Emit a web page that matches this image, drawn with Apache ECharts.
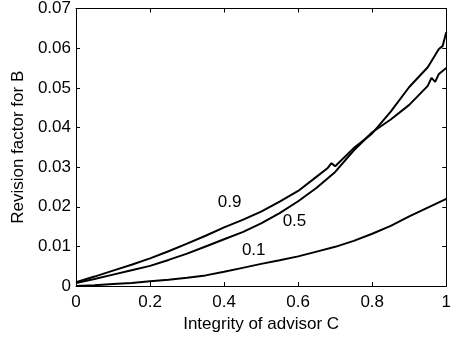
<!DOCTYPE html>
<html>
<head>
<meta charset="utf-8">
<script src="https://cdn.jsdelivr.net/npm/echarts@6/dist/echarts.min.js"></script>
<style>
  html, body { margin: 0; padding: 0; background: #fff; }
  #chart { width: 454px; height: 338px; }
</style>
</head>
<body>
<div id="chart"></div>
<script>
// integrity of advisor C (x) and revision factor for B (y)
var xs90 = [0, 0.05, 0.10, 0.15, 0.20, 0.25, 0.30, 0.35, 0.40, 0.45, 0.50, 0.55, 0.60, 0.65, 0.68, 0.69, 0.70, 0.75, 0.80, 0.85, 0.90, 0.95, 0.98, 0.99, 1.00];
var ys90 = [0.0010, 0.0024, 0.0039, 0.0054, 0.0070, 0.0088, 0.0107, 0.0127, 0.0148, 0.0167, 0.0188, 0.0213, 0.0240, 0.0276, 0.0298, 0.0310, 0.0302, 0.0348, 0.0385, 0.0440, 0.0502, 0.0552, 0.0598, 0.0605, 0.0640];

var xs50 = [0, 0.05, 0.10, 0.15, 0.20, 0.25, 0.30, 0.35, 0.40, 0.45, 0.50, 0.55, 0.60, 0.65, 0.70, 0.75, 0.80, 0.85, 0.90, 0.95, 0.96, 0.97, 0.98, 1.00];
var ys50 = [0.0008, 0.0018, 0.0029, 0.0040, 0.0051, 0.0066, 0.0082, 0.0100, 0.0118, 0.0136, 0.0158, 0.0184, 0.0214, 0.0248, 0.0288, 0.0342, 0.0388, 0.0420, 0.0457, 0.0505, 0.0525, 0.0515, 0.0535, 0.0550];

var xs10 = [0, 0.05, 0.10, 0.15, 0.20, 0.25, 0.30, 0.35, 0.40, 0.45, 0.50, 0.55, 0.60, 0.65, 0.70, 0.75, 0.80, 0.85, 0.90, 0.95, 1.00];
var ys10 = [0.0000, 0.0002, 0.0005, 0.0008, 0.0012, 0.0016, 0.0021, 0.0027, 0.0036, 0.0046, 0.0056, 0.0065, 0.0075, 0.0087, 0.0099, 0.0114, 0.0132, 0.0152, 0.0176, 0.0198, 0.0220];

var curveNames = ['0.9', '0.5', '0.1'];
// where each curve's name is written, in data units
var labelAt = [[0.415, 0.0212], [0.590, 0.0163], [0.480, 0.0089]];

var xTickLabels = ['0', '0.2', '0.4', '0.6', '0.8', '1'];
var yTickLabels = ['0', '0.01', '0.02', '0.03', '0.04', '0.05', '0.06', '0.07'];

function pairs(xs, ys) {
    var out = [];
    for (var i = 0; i < xs.length; i++) {
        out.push([xs[i], ys[i]]);
    }
    return out;
}

var font = 'Liberation Sans, Arial, sans-serif';
var fs = 17;

function boxAxis(pos, show, extra) {
    var a = {
        type: 'value',
        position: pos,
        axisLine: { show: true, onZero: false, lineStyle: { color: '#000', width: 1 } },
        axisTick: { show: true, inside: true, length: 4, lineStyle: { color: '#000' } },
        splitLine: { show: false },
        axisLabel: { show: show }
    };
    for (var k in extra) a[k] = extra[k];
    return a;
}

function curve(name, data, at) {
    return {
        name: name,
        type: 'line',
        data: data,
        symbol: 'none',
        lineStyle: { color: '#000', width: 2 },
        silent: true,
        markPoint: {
            symbol: 'circle',
            symbolSize: 0,
            label: {
                show: true,
                formatter: name,
                color: '#000',
                fontSize: fs,
                fontFamily: font
            },
            data: [{ coord: at }]
        }
    };
}

var bottomX = boxAxis('bottom', true, {
    min: 0, max: 1, interval: 0.2,
    name: 'Integrity of advisor C',
    nameLocation: 'middle',
    nameGap: 27,
    nameTextStyle: { color: '#000', fontSize: fs, fontFamily: font },
    axisLabel: {
        show: true, color: '#000', fontSize: fs, fontFamily: font, margin: 8,
        formatter: function (v) { return xTickLabels[Math.round(v / 0.2)]; }
    }
});

var leftY = boxAxis('left', true, {
    min: 0, max: 0.07, interval: 0.01,
    name: 'Revision factor for B',
    nameLocation: 'middle',
    nameGap: 43,
    nameTextStyle: { color: '#000', fontSize: fs, fontFamily: font },
    axisLabel: {
        show: true, color: '#000', fontSize: fs, fontFamily: font, margin: 5,
        formatter: function (v) { return yTickLabels[Math.round(v / 0.01)]; }
    }
});

var topX = boxAxis('top', false, { min: 0, max: 1, interval: 0.2 });
var rightY = boxAxis('right', false, { min: 0, max: 0.07, interval: 0.01 });

var option = {
    animation: false,
    backgroundColor: '#fff',
    grid: { left: 76, right: 7, top: 8, bottom: 46 },
    xAxis: [bottomX, topX],
    yAxis: [leftY, rightY],
    series: [
        curve(curveNames[0], pairs(xs90, ys90), labelAt[0]),
        curve(curveNames[1], pairs(xs50, ys50), labelAt[1]),
        curve(curveNames[2], pairs(xs10, ys10), labelAt[2])
    ]
};

var chart = echarts.init(document.getElementById('chart'));
chart.setOption(option);
</script>
</body>
</html>
